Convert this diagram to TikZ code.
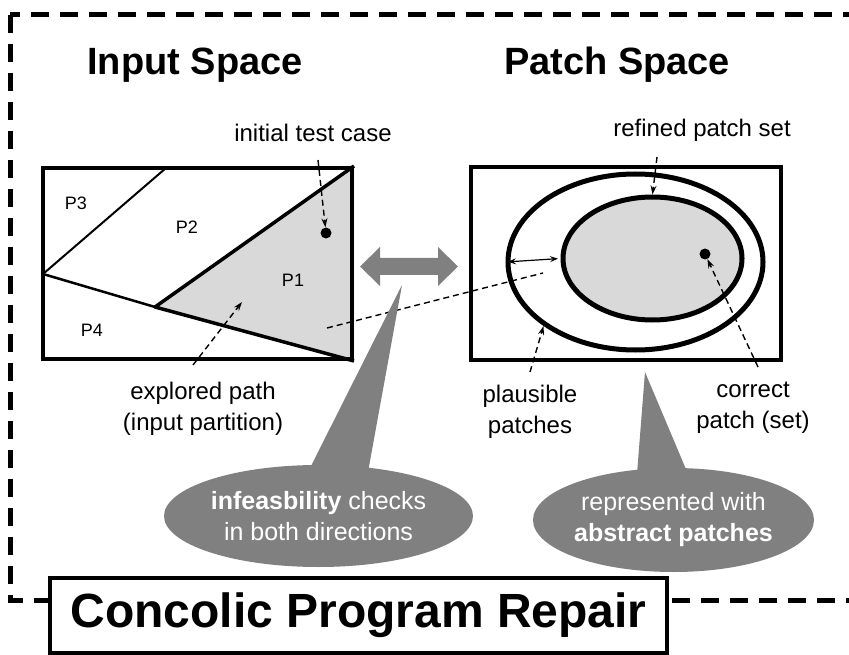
\documentclass[tikz,border=0pt]{standalone}
\usepackage{fontspec}
\setmainfont{Liberation Sans}
\usetikzlibrary{arrows.meta}
\usetikzlibrary{shapes.geometric}
\usetikzlibrary{backgrounds}

\definecolor{bubblegray}{HTML}{808080}
\definecolor{regiongray}{HTML}{D9D9D9}

\tikzset{
  frame/.style={line width=5pt, dash pattern=on 18pt off 11pt},
  heading/.style={font=\fontsize{38}{44}\selectfont\bfseries, inner sep=0},
  spacebox/.style={draw, line width=4pt, minimum width=309pt, minimum height=191pt, inner sep=0},
  patchset/.style={draw, ellipse, line width=5pt, inner sep=0},
  region/.style={font=\fontsize{18}{20}\selectfont, inner sep=0},
  lbl/.style={font=\fontsize{24}{31}\selectfont, align=center, inner sep=0},
  dot/.style={circle, fill, inner sep=0, minimum size=11pt},
  pointer/.style={line width=1.4pt, dash pattern=on 6pt off 4pt, -{Stealth[length=9pt, width=6pt, inset=3pt]}},
  bubble/.style={ellipse, fill=bubblegray, text=white, inner sep=0, align=center,
                 font=\fontsize{25}{31}\selectfont},
  titlebox/.style={draw, fill=white, line width=4pt, minimum width=617pt, minimum height=75pt,
                   font=\fontsize{48}{54}\selectfont\bfseries, inner sep=0}
}

\begin{document}
\begin{tikzpicture}[x=1pt, y=-1pt]
  \useasboundingbox (0,0) rectangle (849,655);
  \draw[frame] (10,15) rectangle (880,600);

  \node[heading] (inhead)  at (195,65) {Input Space};
  \node[heading] (pathead) at (617,65) {Patch Space};

  % input space
  \node[spacebox] (inrect) at (197.5,263.5) {};
  \coordinate (knee)  at (155,307);
  \coordinate (split) at (43,274);
  \coordinate (cut)   at (166,168);
  \begin{scope}[on background layer]
    \fill[regiongray] (knee) -- (inrect.north east) -- (inrect.south east) -- cycle;
  \end{scope}
  \draw[line width=2pt] (cut) -- (split);
  \draw[line width=2.5pt] (split) -- (knee);
  \draw[line width=3.5pt, line join=round] (inrect.north east) -- (knee) -- (inrect.south east);

  \node[region] (p3) at (76,203)  {P3};
  \node[region] (p2) at (187,227) {P2};
  \node[region] (p1) at (293,280) {P1};
  \node[region] (p4) at (92,330)  {P4};

  \node[dot] (testcase) at (326,233) {};
  \node[lbl] (inittxt) at (313,133) {initial test case};
  \coordinate (inittail) at (318,160);
  \draw[pointer] (inittail) -- (testcase);

  \node[lbl] (exptxt) at (203,409) {explored path\\(input partition)};
  \coordinate (exptail) at (193,365);
  \coordinate (exphead) at (242,302);
  \draw[pointer] (exptail) -- (exphead);

  % patch space
  \node[spacebox, minimum width=310pt, minimum height=192pt] (prect) at (625.5,263.5) {};
  \node[patchset, minimum width=255pt, minimum height=176pt] (plausible) at (635.5,262) {};
  \node[patchset, fill=regiongray, minimum width=179pt, minimum height=123pt] (refined) at (652.5,258.5) {};
  \node[dot] (correct) at (705,254) {};
  \draw[line width=1.2pt, {Stealth[length=8pt, width=6pt, inset=3pt]}-{Stealth[length=8pt, width=6pt, inset=3pt]},
        shorten <=2.5pt, shorten >=2.5pt] (plausible.west) -- (refined.west);

  \node[lbl] (reftxt) at (702,130) {refined patch set};
  \coordinate (reftail) at (657,157);
  \draw[pointer] (reftail) -- (refined.north);

  \node[lbl] (plaustxt) at (530,412) {plausible\\patches};
  \coordinate (plaustail) at (530,372);
  \draw[pointer] (plaustail) -- (plausible.south west);

  \node[lbl] (corrtxt) at (753,408) {correct\\patch (set)};
  \coordinate (corrtail) at (758,367);
  \draw[pointer] (corrtail) -- (correct);

  \coordinate (linkstart) at (327,328);
  \coordinate (linkend) at (543,273);
  \draw[line width=1.4pt, dash pattern=on 6pt off 4pt] (linkstart) -- (linkend);

  % both directions
  \fill[bubblegray] (360,266.5) -- (380,247) -- (380,258) -- (438,258) -- (438,247) -- (458,266.5)
    -- (438,286) -- (438,275) -- (380,275) -- (380,286) -- cycle;

  % bubbles
  \coordinate (checktip) at (402,285);
  \fill[bubblegray] (308,472) -- (checktip) -- (368,472) -- cycle;
  \node[bubble, minimum width=309pt, minimum height=102pt] (checks) at (318.5,516)
    {\textbf{infeasbility} checks\\in both directions};

  \coordinate (abstip) at (645,372);
  \fill[bubblegray] (637,474) -- (abstip) -- (688,474) -- cycle;
  \node[bubble, minimum width=277pt, minimum height=104pt] (abstract) at (673.5,520)
    {represented with\\\textbf{abstract patches}};

  \node[titlebox] (cpr) at (358.5,615.5) {Concolic Program Repair};
\end{tikzpicture}
\end{document}
